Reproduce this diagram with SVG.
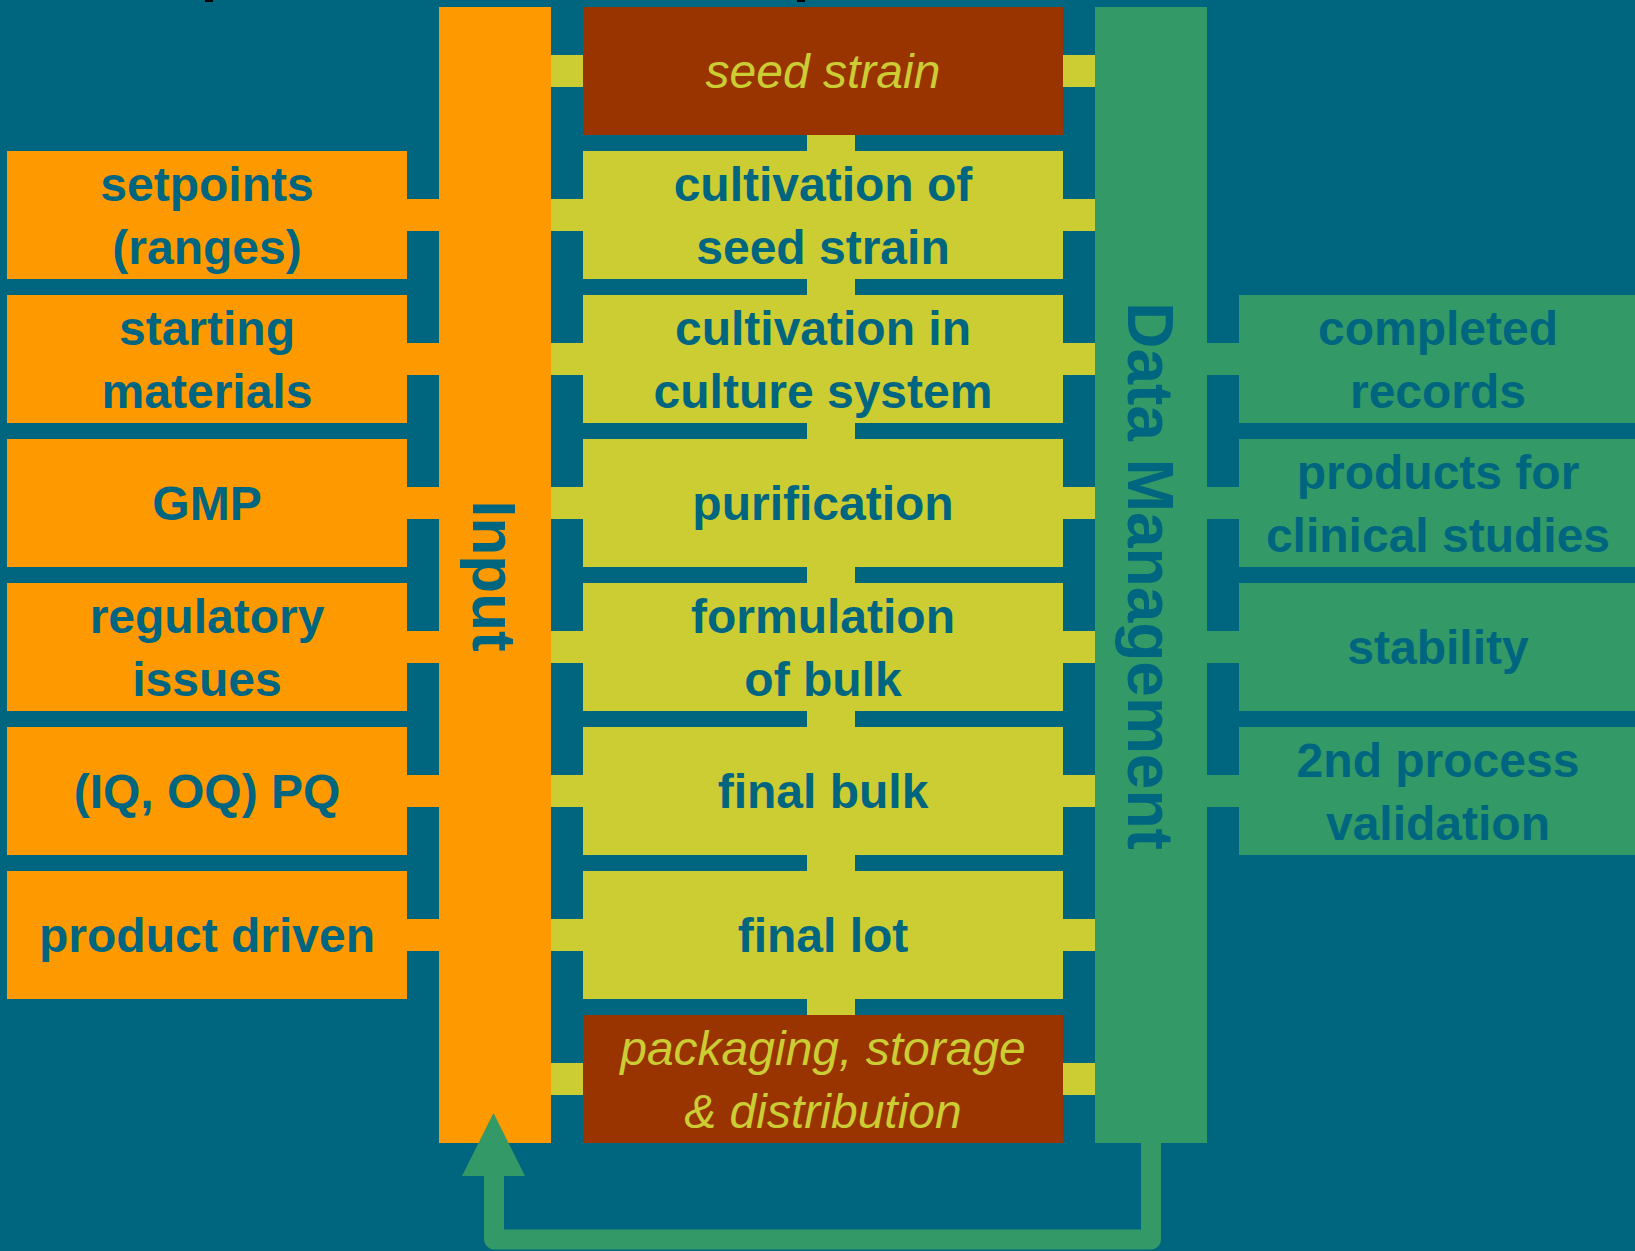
<svg xmlns="http://www.w3.org/2000/svg" width="1635" height="1251" viewBox="0 0 1635 1251">
<style>
.bg{fill:#006680}
.or{fill:#FF9900}
.yg{fill:#CCCC33}
.ru{fill:#993300}
.gr{fill:#339966}
.t{font-family:"Liberation Sans",Arial,sans-serif;font-size:48px;font-weight:bold;fill:#006680;text-anchor:middle}
.ti{font-family:"Liberation Sans",Arial,sans-serif;font-size:48px;font-style:italic;fill:#CCCC33;text-anchor:middle}
.tb{font-family:"Liberation Sans",Arial,sans-serif;font-size:64px;font-weight:bold;fill:#006680;text-anchor:middle}
</style>
<rect class="bg" x="0" y="0" width="1635" height="1251"/>
<rect x="205" y="0" width="8" height="2" fill="#000"/>
<rect x="797" y="0" width="8" height="2" fill="#000"/>

<g id="connectors">
  <!-- left orange connectors -->
  <rect class="or" x="405" y="199" width="36" height="32"/>
  <rect class="or" x="405" y="343" width="36" height="32"/>
  <rect class="or" x="405" y="487" width="36" height="32"/>
  <rect class="or" x="405" y="631" width="36" height="32"/>
  <rect class="or" x="405" y="775" width="36" height="32"/>
  <rect class="or" x="405" y="919" width="36" height="32"/>
  <!-- input bar to process -->
  <rect class="yg" x="549" y="55" width="36" height="32"/>
  <rect class="yg" x="549" y="199" width="36" height="32"/>
  <rect class="yg" x="549" y="343" width="36" height="32"/>
  <rect class="yg" x="549" y="487" width="36" height="32"/>
  <rect class="yg" x="549" y="631" width="36" height="32"/>
  <rect class="yg" x="549" y="775" width="36" height="32"/>
  <rect class="yg" x="549" y="919" width="36" height="32"/>
  <rect class="yg" x="549" y="1063" width="36" height="32"/>
  <!-- process to data management -->
  <rect class="yg" x="1061" y="55" width="36" height="32"/>
  <rect class="yg" x="1061" y="199" width="36" height="32"/>
  <rect class="yg" x="1061" y="343" width="36" height="32"/>
  <rect class="yg" x="1061" y="487" width="36" height="32"/>
  <rect class="yg" x="1061" y="631" width="36" height="32"/>
  <rect class="yg" x="1061" y="775" width="36" height="32"/>
  <rect class="yg" x="1061" y="919" width="36" height="32"/>
  <rect class="yg" x="1061" y="1063" width="36" height="32"/>
  <!-- vertical process links -->
  <rect class="yg" x="807" y="133" width="48" height="20"/>
  <rect class="yg" x="807" y="277" width="48" height="20"/>
  <rect class="yg" x="807" y="421" width="48" height="20"/>
  <rect class="yg" x="807" y="565" width="48" height="20"/>
  <rect class="yg" x="807" y="709" width="48" height="20"/>
  <rect class="yg" x="807" y="853" width="48" height="20"/>
  <rect class="yg" x="807" y="997" width="48" height="20"/>
  <!-- right green connectors -->
  <rect class="gr" x="1205" y="343" width="36" height="32"/>
  <rect class="gr" x="1205" y="487" width="36" height="32"/>
  <rect class="gr" x="1205" y="631" width="36" height="32"/>
  <rect class="gr" x="1205" y="775" width="36" height="32"/>
</g>

<g id="input-bar">
  <rect class="or" x="439" y="7" width="112" height="1136"/>
  <text class="tb" font-size="62" style="font-size:62px" transform="translate(473,576) rotate(90)">Input</text>
</g>
<g id="data-management">
  <rect class="gr" x="1095" y="7" width="112" height="1136"/>
  <text class="tb" transform="translate(1128,576) rotate(90)">Data Management</text>
</g>

<g id="setpoints"><rect class="or" x="7" y="151" width="400" height="128"/><text class="t" x="207" y="200.5">setpoints</text><text class="t" x="207" y="263.5">(ranges)</text></g>
<g id="starting-materials"><rect class="or" x="7" y="295" width="400" height="128"/><text class="t" x="207" y="344.5">starting</text><text class="t" x="207" y="407.5">materials</text></g>
<g id="gmp"><rect class="or" x="7" y="439" width="400" height="128"/><text class="t" x="207" y="520">GMP</text></g>
<g id="regulatory"><rect class="or" x="7" y="583" width="400" height="128"/><text class="t" x="207" y="632.5">regulatory</text><text class="t" x="207" y="695.5">issues</text></g>
<g id="pq"><rect class="or" x="7" y="727" width="400" height="128"/><text class="t" x="207" y="808">(IQ, OQ) PQ</text></g>
<g id="product-driven"><rect class="or" x="7" y="871" width="400" height="128"/><text class="t" x="207" y="952">product driven</text></g>

<g id="seed-strain"><rect class="ru" x="583" y="7" width="480" height="128"/><text class="ti" x="823" y="88">seed strain</text></g>
<g id="cultivation-seed"><rect class="yg" x="583" y="151" width="480" height="128"/><text class="t" x="823" y="200.5">cultivation of</text><text class="t" x="823" y="263.5">seed strain</text></g>
<g id="cultivation-culture"><rect class="yg" x="583" y="295" width="480" height="128"/><text class="t" x="823" y="344.5">cultivation in</text><text class="t" x="823" y="407.5">culture system</text></g>
<g id="purification"><rect class="yg" x="583" y="439" width="480" height="128"/><text class="t" x="823" y="520">purification</text></g>
<g id="formulation"><rect class="yg" x="583" y="583" width="480" height="128"/><text class="t" x="823" y="632.5">formulation</text><text class="t" x="823" y="695.5">of bulk</text></g>
<g id="final-bulk"><rect class="yg" x="583" y="727" width="480" height="128"/><text class="t" x="823" y="808">final bulk</text></g>
<g id="final-lot"><rect class="yg" x="583" y="871" width="480" height="128"/><text class="t" x="823" y="952">final lot</text></g>
<g id="packaging"><rect class="ru" x="583" y="1015" width="480" height="128"/><text class="ti" x="823" y="1064.5">packaging, storage</text><text class="ti" x="823" y="1127.5">&amp; distribution</text></g>

<g id="completed-records"><rect class="gr" x="1239" y="295" width="396" height="128"/><text class="t" x="1438" y="345">completed</text><text class="t" x="1438" y="408">records</text></g>
<g id="clinical"><rect class="gr" x="1239" y="439" width="396" height="128"/><text class="t" x="1438" y="489">products for</text><text class="t" x="1438" y="552">clinical studies</text></g>
<g id="stability"><rect class="gr" x="1239" y="583" width="396" height="128"/><text class="t" x="1438" y="664">stability</text></g>
<g id="validation"><rect class="gr" x="1239" y="727" width="396" height="128"/><text class="t" x="1438" y="777">2nd process</text><text class="t" x="1438" y="840">validation</text></g>

<g id="feedback-arrow">
  <path d="M1151 1140 L1151 1239.5 L494 1239.5 L494 1170" fill="none" stroke="#339966" stroke-width="20" stroke-linejoin="round"/>
  <polygon points="462,1176 525,1176 493.5,1113" fill="#339966"/>
</g>
</svg>
